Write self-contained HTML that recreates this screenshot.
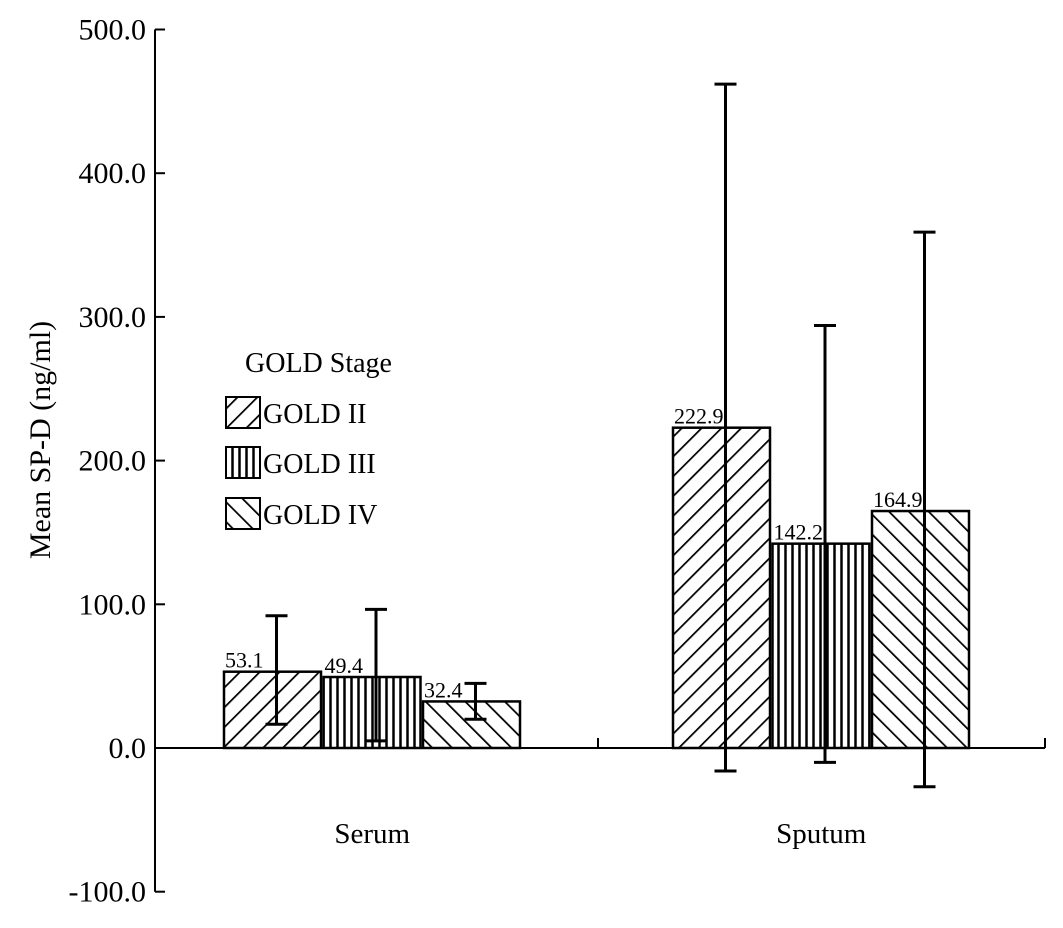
<!DOCTYPE html>
<html><head><meta charset="utf-8"><style>
body{margin:0;background:#fff}
svg text{font-family:"Liberation Serif",serif;fill:#000}
</style></head><body>
<svg width="1063" height="923" viewBox="0 0 1063 923">
<defs>
<pattern id="p-fwd" patternUnits="userSpaceOnUse" width="14" height="14" patternTransform="rotate(45)"><rect width="14" height="14" fill="#fff"/><line x1="0" y1="0" x2="0" y2="14" stroke="#000" stroke-width="3.5"/></pattern>
<pattern id="p-vert" patternUnits="userSpaceOnUse" width="7" height="10"><rect width="7" height="10" fill="#fff"/><line x1="1.5" y1="0" x2="1.5" y2="10" stroke="#000" stroke-width="2.5"/></pattern>
<pattern id="p-back" patternUnits="userSpaceOnUse" width="14" height="14" patternTransform="rotate(-45)"><rect width="14" height="14" fill="#fff"/><line x1="0" y1="0" x2="0" y2="14" stroke="#000" stroke-width="3.5"/></pattern>
</defs>
<g id="axes"></g>
<g id="bars"></g>
<g>
<text x="245" y="372" font-size="28">GOLD Stage</text>
<rect x="226" y="397" width="34" height="31" fill="url(#p-fwd)" stroke="#000" stroke-width="2"/>
<text x="263" y="423" font-size="28">GOLD II</text>
<rect x="226" y="447" width="34" height="31" fill="url(#p-vert)" stroke="#000" stroke-width="2"/>
<text x="263" y="473" font-size="28">GOLD III</text>
<rect x="226" y="498" width="34" height="31" fill="url(#p-back)" stroke="#000" stroke-width="2"/>
<text x="263" y="524" font-size="28">GOLD IV</text>
</g>
<text transform="translate(50,440) rotate(-90)" text-anchor="middle" font-size="30">Mean SP-D (ng/ml)</text>
</svg>
<script>
const categories=["Serum","Sputum"];
const series=["GOLD II","GOLD III","GOLD IV"];
const means=[[53.1,49.4,32.4],[222.9,142.2,164.9]];
const upper=[[92,96.5,45],[462,294,359]];
const lower=[[16.5,5,20],[-16,-10,-27]];
const labels=[["53.1","49.4","32.4"],["222.9","142.2","164.9"]];
const ticks=[-100,0,100,200,300,400,500];
const fills=["url(#p-fwd)","url(#p-vert)","url(#p-back)"];
const NS="http://www.w3.org/2000/svg";
const y=v=>748-v*1.437;
const groupStart=[224,673], barW=97, barStep=99.5;
function mk(tag,attrs,parent){const e=document.createElementNS(NS,tag);for(const k in attrs)e.setAttribute(k,attrs[k]);parent.appendChild(e);return e;}
const ax=document.getElementById('axes'), bg=document.getElementById('bars');
let l=mk('line',{x1:155,y1:y(500),x2:155,y2:y(-100),stroke:'#000','stroke-width':2},ax);


l=mk('line',{x1:155,y1:y(0),x2:1045,y2:y(0),stroke:'#000','stroke-width':2},ax);


[598,1045].forEach(x=>{const t=mk('line',{x1:x,y1:y(0),x2:x,y2:y(0)-10,stroke:'#000','stroke-width':2},ax);

});
ticks.forEach(v=>{
 const t=mk('line',{x1:155,y1:y(v),x2:165,y2:y(v),stroke:'#000','stroke-width':2},ax);
 
 
 const tx=mk('text',{x:146,y:y(v)+10,'text-anchor':'end','font-size':30},ax);
 tx.textContent=v.toFixed(1);
 
 
});
categories.forEach((c,ci)=>{
 const ct=mk('text',{x:groupStart[ci]+barStep*1.5-1,y:843,'text-anchor':'middle','font-size':29},ax);
 ct.textContent=c;
 
 
 series.forEach((s,si)=>{
  const x0=groupStart[ci]+si*barStep, v=means[ci][si];
  const r=mk('rect',{x:x0,y:y(v),width:barW,height:y(0)-y(v),fill:fills[si],stroke:'#000','stroke-width':2.5},bg);
  
  
  const cx=x0+barW/2+4;
  const eg=mk('g',{stroke:'#000','stroke-width':3},bg);
  
  
  mk('line',{x1:cx,y1:y(upper[ci][si]),x2:cx,y2:y(lower[ci][si])},eg);
  mk('line',{x1:cx-11,y1:y(upper[ci][si]),x2:cx+11,y2:y(upper[ci][si])},eg);
  mk('line',{x1:cx-11,y1:y(lower[ci][si]),x2:cx+11,y2:y(lower[ci][si])},eg);
  const vt=mk('text',{x:x0+1,y:y(v)-4,'font-size':22},bg);
  vt.textContent=labels[ci][si];
  
  
 });
});
</script>
</body></html>
